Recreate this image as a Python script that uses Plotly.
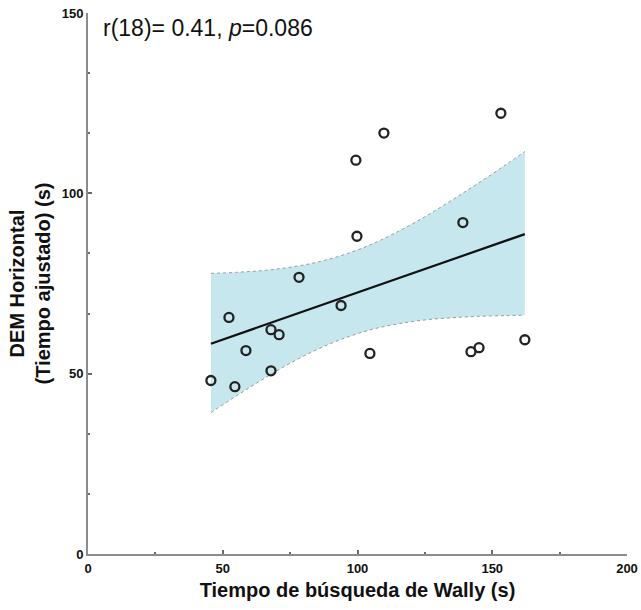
import plotly.graph_objects as go

# Scatter data (Wally search time vs DEM horizontal adjusted time)
wally_time = [45.6, 52.3, 54.5, 58.6, 67.9, 70.9, 67.9, 78.3, 93.9, 99.8,
              99.4, 104.6, 109.8, 139.1, 142.1, 145.1, 153.2, 162.1]
dem_time = [48.1, 65.6, 46.4, 56.4, 62.2, 60.8, 50.8, 76.7, 68.9, 88.1,
            109.2, 55.6, 116.7, 91.9, 56.1, 57.2, 122.2, 59.4]

# Regression line and confidence band
ci_x = [45.6, 55, 65, 75, 85, 95, 105, 115, 125, 135, 145, 155, 162.1]
ci_upper = [77.8, 78.1, 78.6, 79.5, 80.9, 83.0, 85.8, 89.4, 93.5, 98.1, 102.9, 107.9, 111.6]
ci_lower = [39.2, 43.8, 48.5, 52.9, 56.7, 59.8, 62.2, 63.8, 64.9, 65.5, 65.9, 66.1, 66.2]
fit_x = [45.6, 162.1]
fit_y = [58.3, 88.7]

x_ticks = [0, 50, 100, 150, 200]
y_ticks = [0, 50, 100, 150]

fig = go.Figure()
fig.add_trace(go.Scatter(x=ci_x, y=ci_lower, mode="lines",
                         line=dict(color="#9a9a9a", width=1, dash="dot", shape="spline"),
                         hoverinfo="skip", showlegend=False))
fig.add_trace(go.Scatter(x=ci_x, y=ci_upper, mode="lines", fill="tonexty",
                         fillcolor="#c6e7ed",
                         line=dict(color="#9a9a9a", width=1, dash="dot", shape="spline"),
                         hoverinfo="skip", showlegend=False))
fig.add_trace(go.Scatter(x=fit_x, y=fit_y, mode="lines",
                         line=dict(color="#111111", width=2.2), showlegend=False))
fig.add_trace(go.Scatter(x=wally_time, y=dem_time, mode="markers",
                         marker=dict(symbol="circle-open", size=9, color="#222222",
                                     line=dict(width=2.3, color="#222222")),
                         showlegend=False))

fig.add_annotation(text="r(18)= 0.41, <i>p</i>=0.086", xref="paper", yref="paper",
                   x=0.024, y=0.972, xanchor="left", yanchor="middle", showarrow=False,
                   font=dict(family="Liberation Sans, Arial", size=23, color="#111111"))

axis_common = dict(showgrid=False, zeroline=False, showline=True, linecolor="#8c8c8c",
                   linewidth=2, ticks="inside", ticklen=4, tickwidth=1.5, tickcolor="#6a6a6a",
                   automargin=False,
                   tickfont=dict(family="Liberation Sans, Arial", size=13, color="#111111",
                                 weight="bold"))

fig.update_xaxes(range=[0, 200], tickvals=x_ticks, ticktext=[str(v) for v in x_ticks],
                 minor=dict(dtick=25, tick0=0, ticklen=2, tickcolor="#6a6a6a", ticks="inside"),
                 title=dict(text="Tiempo de búsqueda de Wally (s)", standoff=8,
                            font=dict(family="Liberation Sans, Arial", size=20, color="#111111",
                                      weight="bold")),
                 ticklabelstandoff=1,
                 **axis_common)
fig.update_yaxes(range=[0, 150], tickvals=y_ticks, ticktext=[str(v) for v in y_ticks],
                 minor=dict(dtick=50 / 3, tick0=0, ticklen=2, tickcolor="#6a6a6a", ticks="inside"),
                 title=dict(text="DEM Horizontal<br>(Tiempo ajustado) (s)", standoff=6,
                            font=dict(family="Liberation Sans, Arial", size=20, color="#111111",
                                      weight="bold")),
                 ticklabelstandoff=0,
                 **axis_common)

fig.update_layout(width=641, height=610, margin=dict(l=88, r=14, t=13, b=56),
                  plot_bgcolor="white", paper_bgcolor="white")

fig.write_html("out.html")
